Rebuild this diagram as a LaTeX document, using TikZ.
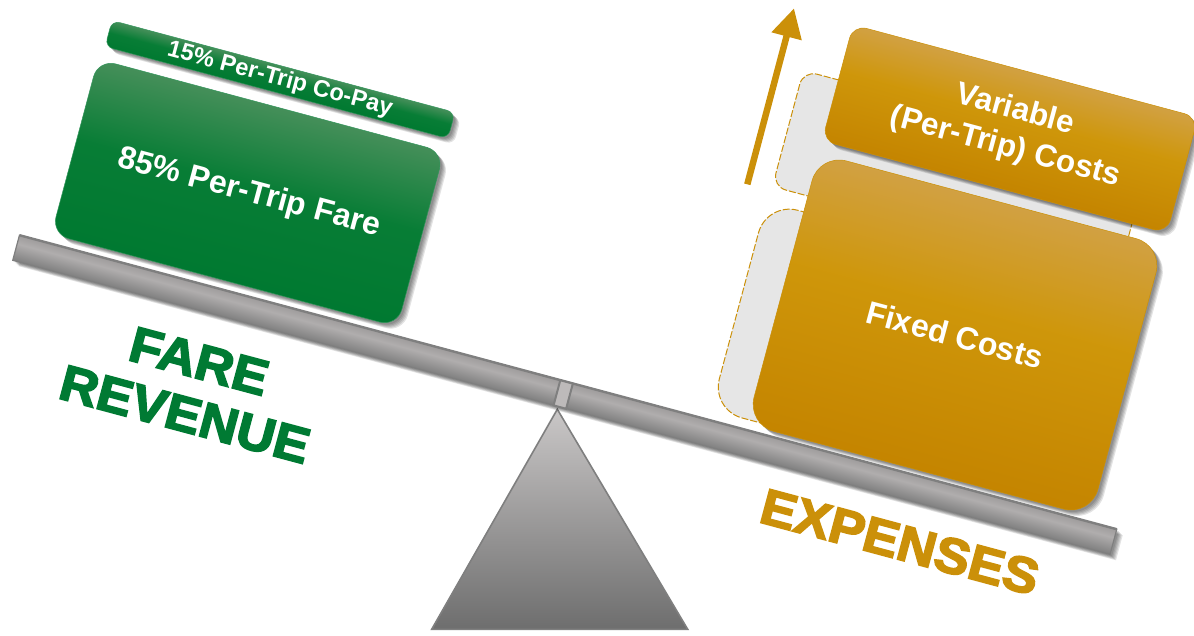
\documentclass[tikz,border=0pt]{standalone}
\usepackage{fontspec}
\setmainfont{Liberation Sans}
\newfontfamily\heavyfont[FakeBold=3.4,FakeStretch=1.06]{Liberation Sans Bold}
\usetikzlibrary{shadows,arrows.meta}
\definecolor{fgreen}{HTML}{007A33}
\definecolor{fgold}{HTML}{CB9009}
\definecolor{fgrey}{HTML}{7F7F7F}
\definecolor{ghostfill}{HTML}{E6E6E6}
\definecolor{pivotfill}{HTML}{BDBABA}
\pgfdeclareverticalshading{greenshade}{100bp}{rgb(0bp)=(0,.475,.19); rgb(25bp)=(0,.475,.19); rgb(52bp)=(.03,.49,.21); rgb(75bp)=(.27,.56,.35); rgb(100bp)=(.27,.56,.35)}
\pgfdeclareverticalshading{goldshade}{100bp}{rgb(0bp)=(.77,.52,0); rgb(25bp)=(.77,.52,0); rgb(55bp)=(.81,.59,.04); rgb(75bp)=(.82,.63,.26); rgb(100bp)=(.82,.63,.26)}
\pgfdeclareverticalshading{beamshade}{100bp}{rgb(0bp)=(.50,.50,.50); rgb(25bp)=(.50,.50,.50); rgb(58bp)=(.69,.68,.68); rgb(75bp)=(.62,.61,.61); rgb(100bp)=(.62,.61,.61)}
\pgfdeclareverticalshading{baseshade}{100bp}{rgb(0bp)=(.43,.43,.43); rgb(25bp)=(.43,.43,.43); rgb(75bp)=(.79,.78,.78); rgb(100bp)=(.79,.78,.78)}
\tikzset{
  tilted/.style={transform canvas={shift={#1},rotate=-15}},
  softlayer/.style={general shadow={shadow xshift=#1*1.22pt,shadow yshift=-#1*.7pt,fill=black,opacity=.11}},
  softshadow/.style={softlayer=6,softlayer=5,softlayer=4,softlayer=3,softlayer=2},
  panel/.style={rectangle,inner sep=0pt,outer sep=0pt,align=center,text=white,font=\bfseries},
  greenbox/.style={panel,softshadow,shading=greenshade,draw=fgreen!80!white,line width=.5pt},
  goldbox/.style={panel,softshadow,shading=goldshade,draw=fgold,line width=.5pt},
  ghostbox/.style={panel,fill=ghostfill,draw=fgold,line width=1pt,dash pattern=on 7pt off 2pt},
  biglabel/.style={inner sep=0pt,align=center},
}
\begin{document}
\begin{tikzpicture}[x=1pt,y=-1pt]
\useasboundingbox (0,0) rectangle (1194,635);
% base
\coordinate (apex) at (557.3,409.3);
\coordinate (baseL) at (431.7,629.3);
\coordinate (baseR) at (687.7,629.3);
\foreach \s/\o in {5/.09,4/.09,3/.09,2/.09}
  \fill[black,opacity=\o,shift={(\s,\s*.8)}] (apex) -- (baseR) -- (baseL) -- cycle;
\draw[shading=baseshade,draw=fgrey,line width=1.6pt,line join=miter] (apex) -- (baseR) -- (baseL) -- cycle;
% beam
\begin{scope}[tilted={(564.75,394.75)}]
\node[panel,softshadow,shading=beamshade,draw=fgrey,line width=1.2pt,minimum width=1136pt,minimum height=26pt] (beam) at (0,0) {};
\draw[fgrey,line width=2.4pt] (beam.north west) -- (beam.north east);
\end{scope}
\begin{scope}[tilted={(563.2,394.5)}]
\node[panel,fill=pivotfill,draw=fgrey,line width=2pt,minimum width=13pt,minimum height=26pt] (pivot) at (0,0) {};
\end{scope}
% ghosts
\begin{scope}[tilted={(960.3,174.7)}]
\node[ghostbox,rounded corners=14pt,minimum width=357pt,minimum height=120pt] (ghostvar) at (0,0) {};
\end{scope}
\begin{scope}[tilted={(835.5,331.7)}]
\node[ghostbox,rounded corners=32pt,minimum width=200pt,minimum height=215pt] (ghostfix) at (0,0) {};
\end{scope}
% green
\begin{scope}[tilted={(247.7,193)}]
\node[greenbox,rounded corners=18pt,minimum width=358pt,minimum height=181pt] (fare) at (0,0) {};
\node[panel,font=\bfseries\fontsize{32}{38}\selectfont] (fare text) at (1.5,0) {85\% Per-Trip Fare};
\end{scope}
\begin{scope}[tilted={(280,79.5)}]
\node[greenbox,rounded corners=8pt,minimum width=355pt,minimum height=27pt,font=\bfseries\fontsize{23.7}{28}\selectfont] (copay) at (0,0) {15\% Per-Trip Co-Pay};
\end{scope}
% gold
\begin{scope}[tilted={(955,335)}]
\node[goldbox,rounded corners=28pt,minimum width=356pt,minimum height=280pt,font=\bfseries\fontsize{32}{38}\selectfont] (fixed) at (0,0) {Fixed Costs};
\end{scope}
\begin{scope}[tilted={(1010,129)}]
\node[goldbox,rounded corners=14pt,minimum width=357pt,minimum height=120pt,font=\bfseries\fontsize{31.5}{38}\selectfont] (variable) at (0,0) {Variable\\(Per-Trip) Costs};
\end{scope}
% arrow
\coordinate (arrowtail) at (747.3,184.3);
\coordinate (arrowtip) at (794,8.3);
\draw[fgold,line width=6.5pt,-{Triangle[length=29pt,width=29.5pt]}] (arrowtail) -- (arrowtip);
% labels
\begin{scope}[tilted={(192,388)}]
\node[biglabel,text=fgreen,font=\heavyfont\fontsize{50}{55}\selectfont] (fare label) at (0,0) {FARE\\REVENUE};
\end{scope}
\begin{scope}[tilted={(900,542)}]
\node[biglabel,text=fgold,font=\heavyfont\fontsize{50}{55}\selectfont] (exp label) at (0,0) {EXPENSES};
\end{scope}
\end{tikzpicture}
\end{document}
